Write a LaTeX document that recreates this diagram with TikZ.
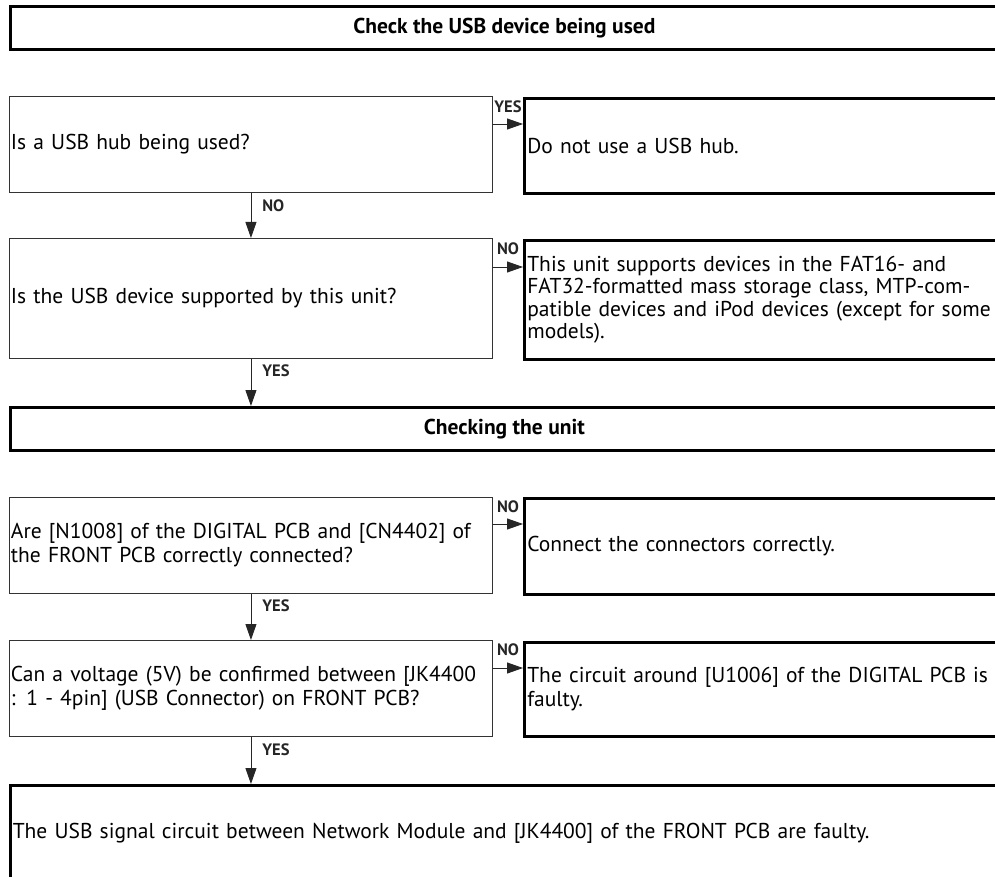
\documentclass[tikz,border=0pt]{standalone}
\usepackage{fontspec}
\setmainfont{PT Sans}
\usetikzlibrary{arrows.meta}

\begin{document}
\begin{tikzpicture}[x=1pt, y=-1pt,
    qbox/.style={draw=black!80, line width=0.9pt, rectangle, anchor=north west,
        inner xsep=1.5pt, inner ysep=0pt, text width=480pt, minimum height=#1,
        align=left, font=\fontsize{21.5}{24}\selectfont},
    qbox/.default=96pt,
    rbox/.style={draw=black, line width=2.6pt, rectangle, anchor=north west,
        inner xsep=3pt, inner ysep=0pt, text width=560pt, minimum height=#1,
        align=left, font=\fontsize{21.5}{24}\selectfont},
    rbox/.default=95pt,
    hdrbox/.style={draw=black, line width=2.6pt, rectangle, anchor=north west,
        inner sep=0pt, minimum width=988pt, minimum height=43pt,
        font=\fontsize{21.5}{24}\selectfont\bfseries},
    lbl/.style={font=\fontsize{16.5}{18}\selectfont\bfseries, inner sep=0pt},
    arr/.style={-{Triangle[length=16pt,width=11pt]}, line width=0.9pt, black!85}]

    \useasboundingbox (0,0) rectangle (995,877);
    \clip (0,0) rectangle (995,877);

    % Check the USB device
    \node[hdrbox] (hdrusb) at (9,5) {Check the USB device being used};

    \node[qbox] (hub) at (9,96) {Is a USB hub being used?};
    \node[rbox] (nohub) at (523,97) {Do not use a USB hub.};

    \node[qbox=120pt] (support) at (9,238) {Is the USB device supported by this unit?};
    \node[rbox=119pt, font=\fontsize{21.5}{22.5}\selectfont] (devices) at (523,239)
        {This unit supports devices in the FAT16- and\\FAT32-formatted mass storage class, MTP-com-\\patible devices and iPod devices (except for some\\models).};

    % Checking the unit
    \node[hdrbox] (hdrunit) at (9,406) {Checking the unit};

    \node[qbox] (conn) at (9,497) {Are [N1008] of the DIGITAL PCB and [CN4402] of\\the FRONT PCB correctly connected?};
    \node[rbox=96pt] (fixconn) at (523,497) {Connect the connectors correctly.};

    \node[qbox] (volt) at (9,640) {Can a voltage (5V) be confirmed between [JK4400\\: 1 - 4pin] (USB Connector) on FRONT PCB?};
    \node[rbox=94pt] (digital) at (523,641) {The circuit around [U1006] of the DIGITAL PCB is\\faulty.};

    \node[rbox=96pt, text width=1010pt, inner xsep=2.5pt] (signal) at (9,784)
        {The USB signal circuit between Network Module and [JK4400] of the FRONT PCB are faulty.};

    % Side exits
    \coordinate (hubout) at ([yshift=-28pt]hub.north east);
    \coordinate (supout) at ([yshift=-29pt]support.north east);
    \coordinate (connout) at ([yshift=-27pt]conn.north east);
    \coordinate (voltout) at ([yshift=-28pt]volt.north east);

    \draw[arr] (hubout) -- (hubout -| nohub.west) node[lbl, midway, yshift=17pt] {YES};
    \draw[arr] (supout) -- (supout -| devices.west) node[lbl, midway, yshift=18pt] {NO};
    \draw[arr] (connout) -- (connout -| fixconn.west) node[lbl, midway, yshift=17pt] {NO};
    \draw[arr] (voltout) -- (voltout -| digital.west) node[lbl, midway, yshift=18pt] {NO};

    % Down arrows
    \draw[arr] (hub.south) -- (support.north) node[lbl, pos=0.28, anchor=west, xshift=11pt] {NO};
    \draw[arr] (support.south) -- (hdrunit.north -| support.south) node[lbl, pos=0.25, anchor=west, xshift=11pt] {YES};
    \draw[arr] (conn.south) -- (volt.north) node[lbl, pos=0.26, anchor=west, xshift=11pt] {YES};
    \draw[arr] (volt.south) -- (signal.north -| volt.south) node[lbl, pos=0.27, anchor=west, xshift=11pt] {YES};
\end{tikzpicture}
\end{document}
